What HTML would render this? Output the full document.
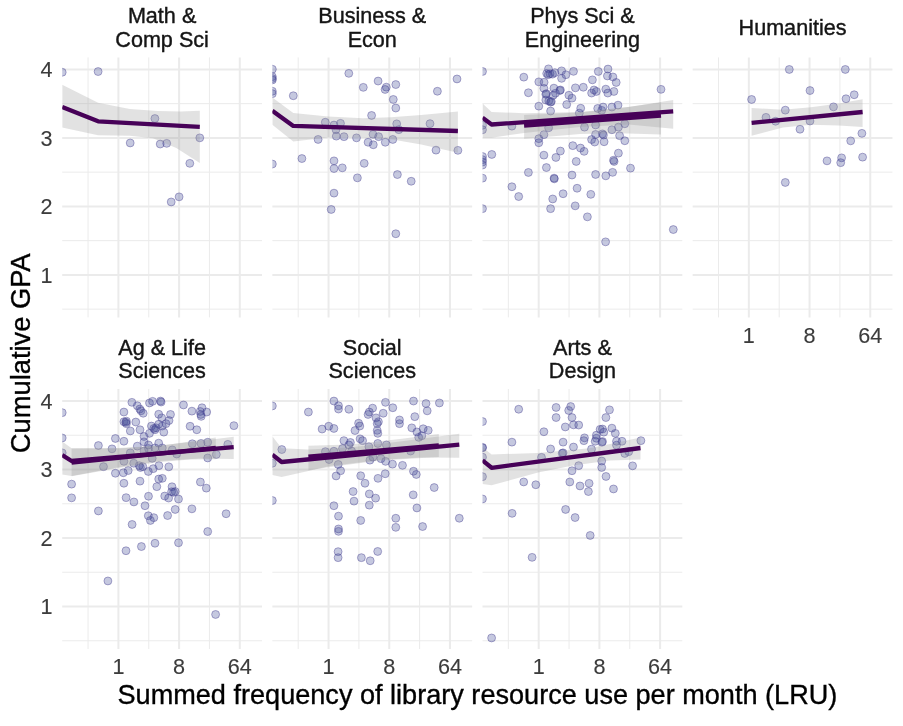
<!DOCTYPE html>
<html lang="en"><head><meta charset="utf-8"><title>Cumulative GPA vs library resource use</title>
<style>html,body{margin:0;padding:0;background:#fff}body{width:903px;height:726px;overflow:hidden}svg{display:block}text{font-family:"Liberation Sans",Arial,Helvetica,sans-serif}.ax{font-size:21.6px;fill:#3c3c3c;stroke:#3c3c3c;stroke-width:.12}.st{font-size:21.6px;fill:#151515;stroke:#151515;stroke-width:.4}.ti{font-size:27px;fill:#000;stroke:#000;stroke-width:.35}.gM{stroke:#ebebeb;stroke-width:2;fill:none}.gm{stroke:#ebebeb;stroke-width:1;fill:none}.p circle{fill:#3e4a96;fill-opacity:.3;stroke:#453f8f;stroke-opacity:.42;stroke-width:1}.rb{fill:#999;fill-opacity:.285;stroke:none}.ln{fill:none;stroke:#470158;stroke-width:4.3;stroke-linejoin:round;stroke-linecap:butt}</style></head><body>
<svg width="903" height="726" viewBox="0 0 903 726">
<rect width="903" height="726" fill="#fff"/>
<defs>
<clipPath id="c0"><rect x="62.2" y="57.4" width="199.8" height="260"/></clipPath>
<clipPath id="c1"><rect x="272.35" y="57.4" width="199.8" height="260"/></clipPath>
<clipPath id="c2"><rect x="482.5" y="57.4" width="199.8" height="260"/></clipPath>
<clipPath id="c3"><rect x="692.65" y="57.4" width="199.8" height="260"/></clipPath>
<clipPath id="c4"><rect x="62.2" y="389" width="199.8" height="260"/></clipPath>
<clipPath id="c5"><rect x="272.35" y="389" width="199.8" height="260"/></clipPath>
<clipPath id="c6"><rect x="482.5" y="389" width="199.8" height="260"/></clipPath>
</defs>
<g>
<path class="gm" d="M62.2 103.65H262M62.2 172.15H262M62.2 240.65H262M62.2 309.15H262M88.05 57.4V317.4M148.75 57.4V317.4M209.45 57.4V317.4"/>
<path class="gM" d="M62.2 69.4H262M62.2 137.9H262M62.2 206.4H262M62.2 274.9H262M118.4 57.4V317.4M179.1 57.4V317.4M239.8 57.4V317.4"/>
<g clip-path="url(#c0)">
<g class="p"><circle cx="62.2" cy="72.25" r="3.95"/><circle cx="98.1" cy="71.55" r="3.95"/><circle cx="154.9" cy="118.55" r="3.95"/><circle cx="130.2" cy="142.95" r="3.95"/><circle cx="160.2" cy="144.05" r="3.95"/><circle cx="166.7" cy="143.35" r="3.95"/><circle cx="199.8" cy="137.85" r="3.95"/><circle cx="189.8" cy="163.35" r="3.95"/><circle cx="179.1" cy="196.85" r="3.95"/><circle cx="171.2" cy="201.95" r="3.95"/></g>
<path class="rb" d="M62.2 84.8L98.1 102.7L129.8 109L157.7 111L180.9 111.5L199.8 110.8L199.8 163.1L176.3 148L153 138.3L129.8 135.7L98.1 135.2L62.2 127.6Z"/>
<path class="ln" d="M62.2 107.1L98.1 121.3L199.8 126.9"/>
</g>
<text class="st" text-anchor="middle" x="162.1" y="23">Math &amp;</text>
<text class="st" text-anchor="middle" x="162.1" y="46.6">Comp Sci</text>
</g>
<g>
<path class="gm" d="M272.35 103.65H472.15M272.35 172.15H472.15M272.35 240.65H472.15M272.35 309.15H472.15M298.2 57.4V317.4M358.9 57.4V317.4M419.6 57.4V317.4"/>
<path class="gM" d="M272.35 69.4H472.15M272.35 137.9H472.15M272.35 206.4H472.15M272.35 274.9H472.15M328.55 57.4V317.4M389.25 57.4V317.4M449.95 57.4V317.4"/>
<g clip-path="url(#c1)">
<g class="p"><circle cx="272.35" cy="69.25" r="3.95"/><circle cx="272.35" cy="76.65" r="3.95"/><circle cx="272.35" cy="78.55" r="3.95"/><circle cx="272.35" cy="79.95" r="3.95"/><circle cx="272.35" cy="91.25" r="3.95"/><circle cx="272.35" cy="93.65" r="3.95"/><circle cx="272.35" cy="164.05" r="3.95"/><circle cx="348.8" cy="73.35" r="3.95"/><circle cx="293.3" cy="95.75" r="3.95"/><circle cx="378.1" cy="81.05" r="3.95"/><circle cx="363.3" cy="87.35" r="3.95"/><circle cx="386.3" cy="87.15" r="3.95"/><circle cx="385.1" cy="89.45" r="3.95"/><circle cx="395.8" cy="84.55" r="3.95"/><circle cx="457" cy="78.95" r="3.95"/><circle cx="437.4" cy="91.25" r="3.95"/><circle cx="393.3" cy="99.45" r="3.95"/><circle cx="395.8" cy="108.05" r="3.95"/><circle cx="371.6" cy="115.45" r="3.95"/><circle cx="325.3" cy="122.25" r="3.95"/><circle cx="334" cy="125.05" r="3.95"/><circle cx="340.5" cy="123.35" r="3.95"/><circle cx="336" cy="129.65" r="3.95"/><circle cx="396.7" cy="123.85" r="3.95"/><circle cx="398.8" cy="129.65" r="3.95"/><circle cx="430" cy="123.65" r="3.95"/><circle cx="336.3" cy="136.15" r="3.95"/><circle cx="344" cy="136.65" r="3.95"/><circle cx="356.5" cy="137.85" r="3.95"/><circle cx="318.1" cy="139.45" r="3.95"/><circle cx="373" cy="134.35" r="3.95"/><circle cx="378.6" cy="136.65" r="3.95"/><circle cx="368.1" cy="142.25" r="3.95"/><circle cx="373.3" cy="144.75" r="3.95"/><circle cx="385.3" cy="142.25" r="3.95"/><circle cx="392.8" cy="139.45" r="3.95"/><circle cx="436" cy="150.15" r="3.95"/><circle cx="457.9" cy="150.35" r="3.95"/><circle cx="301.9" cy="158.55" r="3.95"/><circle cx="334" cy="160.85" r="3.95"/><circle cx="334" cy="168.55" r="3.95"/><circle cx="342.3" cy="167.85" r="3.95"/><circle cx="364.2" cy="163.35" r="3.95"/><circle cx="357.4" cy="177.85" r="3.95"/><circle cx="397.4" cy="174.55" r="3.95"/><circle cx="411.2" cy="181.25" r="3.95"/><circle cx="334" cy="193.15" r="3.95"/><circle cx="331.2" cy="209.45" r="3.95"/><circle cx="395.8" cy="233.75" r="3.95"/></g>
<path class="rb" d="M272.35 97.6L293.3 113.1L328.1 116.6L363 118.3L390.9 117.3L421.2 115L457.9 111.5L457.9 152.7L421.2 144.5L390.9 139.2L363 137.6L328.1 137.6L293.3 141.5L272.35 124.8Z"/>
<path class="ln" d="M272.35 110.8L293.3 125.9L457.9 131"/>
</g>
<text class="st" text-anchor="middle" x="372.25" y="23">Business &amp;</text>
<text class="st" text-anchor="middle" x="372.25" y="46.6">Econ</text>
</g>
<g>
<path class="gm" d="M482.5 103.65H682.3M482.5 172.15H682.3M482.5 240.65H682.3M482.5 309.15H682.3M508.35 57.4V317.4M569.05 57.4V317.4M629.75 57.4V317.4"/>
<path class="gM" d="M482.5 69.4H682.3M482.5 137.9H682.3M482.5 206.4H682.3M482.5 274.9H682.3M538.7 57.4V317.4M599.4 57.4V317.4M660.1 57.4V317.4"/>
<g clip-path="url(#c2)">
<g class="p"><circle cx="482.5" cy="71.45" r="3.95"/><circle cx="523.8" cy="77.15" r="3.95"/><circle cx="528.4" cy="92.75" r="3.95"/><circle cx="538.8" cy="81.85" r="3.95"/><circle cx="544.1" cy="82.25" r="3.95"/><circle cx="548.5" cy="68.85" r="3.95"/><circle cx="546.7" cy="73.55" r="3.95"/><circle cx="548.2" cy="74.75" r="3.95"/><circle cx="550" cy="73.75" r="3.95"/><circle cx="552.5" cy="74.15" r="3.95"/><circle cx="554.9" cy="72.65" r="3.95"/><circle cx="561.6" cy="70.85" r="3.95"/><circle cx="565.9" cy="74.75" r="3.95"/><circle cx="561.6" cy="78.35" r="3.95"/><circle cx="573.5" cy="71.35" r="3.95"/><circle cx="543.9" cy="88.35" r="3.95"/><circle cx="553.9" cy="88.15" r="3.95"/><circle cx="560.4" cy="89.95" r="3.95"/><circle cx="559.8" cy="90.55" r="3.95"/><circle cx="546.4" cy="93.65" r="3.95"/><circle cx="545.8" cy="94.25" r="3.95"/><circle cx="555.5" cy="93.25" r="3.95"/><circle cx="553.1" cy="95.45" r="3.95"/><circle cx="575.4" cy="87.85" r="3.95"/><circle cx="583.3" cy="87.25" r="3.95"/><circle cx="568.9" cy="95.25" r="3.95"/><circle cx="572" cy="98.15" r="3.95"/><circle cx="545.8" cy="100.05" r="3.95"/><circle cx="548.8" cy="100.95" r="3.95"/><circle cx="550.6" cy="102.15" r="3.95"/><circle cx="551.3" cy="101.55" r="3.95"/><circle cx="538.8" cy="106.15" r="3.95"/><circle cx="550.6" cy="111.05" r="3.95"/><circle cx="566.7" cy="104.55" r="3.95"/><circle cx="580.7" cy="108.25" r="3.95"/><circle cx="579.3" cy="113.15" r="3.95"/><circle cx="482.5" cy="125.25" r="3.95"/><circle cx="482.5" cy="129.75" r="3.95"/><circle cx="511.9" cy="126.15" r="3.95"/><circle cx="548.6" cy="127.75" r="3.95"/><circle cx="584.5" cy="127.15" r="3.95"/><circle cx="543.9" cy="134.65" r="3.95"/><circle cx="538.8" cy="138.65" r="3.95"/><circle cx="538.8" cy="142.75" r="3.95"/><circle cx="598.3" cy="71.45" r="3.95"/><circle cx="608" cy="69.05" r="3.95"/><circle cx="607.4" cy="75.95" r="3.95"/><circle cx="612.9" cy="76.95" r="3.95"/><circle cx="616.2" cy="82.45" r="3.95"/><circle cx="592.4" cy="79.85" r="3.95"/><circle cx="591.6" cy="93.05" r="3.95"/><circle cx="594" cy="89.95" r="3.95"/><circle cx="596.4" cy="91.45" r="3.95"/><circle cx="605.8" cy="89.15" r="3.95"/><circle cx="607.8" cy="93.05" r="3.95"/><circle cx="613.9" cy="91.45" r="3.95"/><circle cx="661" cy="89.35" r="3.95"/><circle cx="597.7" cy="108.45" r="3.95"/><circle cx="603.1" cy="107.05" r="3.95"/><circle cx="601.7" cy="110.35" r="3.95"/><circle cx="611.9" cy="107.05" r="3.95"/><circle cx="618" cy="105.15" r="3.95"/><circle cx="595.6" cy="124.95" r="3.95"/><circle cx="624.8" cy="123.75" r="3.95"/><circle cx="618.4" cy="127.15" r="3.95"/><circle cx="611.9" cy="129.75" r="3.95"/><circle cx="595.6" cy="134.45" r="3.95"/><circle cx="602.5" cy="133.85" r="3.95"/><circle cx="603.4" cy="135.05" r="3.95"/><circle cx="619.6" cy="135.65" r="3.95"/><circle cx="591.6" cy="139.55" r="3.95"/><circle cx="594.7" cy="142.05" r="3.95"/><circle cx="604.1" cy="141.75" r="3.95"/><circle cx="624.8" cy="140.75" r="3.95"/><circle cx="482.5" cy="156.55" r="3.95"/><circle cx="482.5" cy="159.65" r="3.95"/><circle cx="482.5" cy="162.05" r="3.95"/><circle cx="482.5" cy="165.05" r="3.95"/><circle cx="482.5" cy="178.15" r="3.95"/><circle cx="482.5" cy="208.65" r="3.95"/><circle cx="491.8" cy="154.45" r="3.95"/><circle cx="543.9" cy="155.15" r="3.95"/><circle cx="560.4" cy="151.05" r="3.95"/><circle cx="555.9" cy="157.45" r="3.95"/><circle cx="572.8" cy="145.65" r="3.95"/><circle cx="580.5" cy="148.05" r="3.95"/><circle cx="584.1" cy="151.35" r="3.95"/><circle cx="576.2" cy="161.45" r="3.95"/><circle cx="546.4" cy="167.55" r="3.95"/><circle cx="528.4" cy="172.45" r="3.95"/><circle cx="554.1" cy="178.15" r="3.95"/><circle cx="554.3" cy="178.85" r="3.95"/><circle cx="572" cy="175.05" r="3.95"/><circle cx="511.9" cy="186.75" r="3.95"/><circle cx="518.7" cy="196.55" r="3.95"/><circle cx="577.1" cy="188.25" r="3.95"/><circle cx="563.1" cy="193.75" r="3.95"/><circle cx="552.7" cy="198.95" r="3.95"/><circle cx="550.6" cy="208.65" r="3.95"/><circle cx="575.2" cy="205.85" r="3.95"/><circle cx="587.4" cy="216.85" r="3.95"/><circle cx="590.8" cy="194.35" r="3.95"/><circle cx="618.4" cy="153.15" r="3.95"/><circle cx="613.5" cy="160.25" r="3.95"/><circle cx="614.1" cy="161.45" r="3.95"/><circle cx="630.5" cy="168.15" r="3.95"/><circle cx="595.6" cy="174.45" r="3.95"/><circle cx="605.8" cy="175.85" r="3.95"/><circle cx="612.6" cy="172.35" r="3.95"/><circle cx="605.6" cy="241.85" r="3.95"/><circle cx="673.3" cy="229.55" r="3.95"/></g>
<path class="rb" d="M482.5 103.5L491.6 111.9L524.1 113.2L580 112L628.7 107L673.2 100L673.2 128.7L628.7 124.6L580 127L524.1 133L491.6 137.7L482.5 137.7Z"/>
<path class="rb" d="M524.1 115L580 112.5L620 108L661 102.4L661 134.6L620 133.2L580 134L524.1 138.8Z"/>
<path class="ln" d="M482.5 117.6L491.6 124.5L673.2 111.4"/>
<path class="ln" d="M524.1 125.7L661 115.5"/>
</g>
<text class="st" text-anchor="middle" x="582.4" y="23">Phys Sci &amp;</text>
<text class="st" text-anchor="middle" x="582.4" y="46.6">Engineering</text>
</g>
<g>
<path class="gm" d="M692.65 103.65H892.45M692.65 172.15H892.45M692.65 240.65H892.45M692.65 309.15H892.45M718.5 57.4V317.4M779.2 57.4V317.4M839.9 57.4V317.4"/>
<path class="gM" d="M692.65 69.4H892.45M692.65 137.9H892.45M692.65 206.4H892.45M692.65 274.9H892.45M748.85 57.4V317.4M809.55 57.4V317.4M870.25 57.4V317.4"/>
<g clip-path="url(#c3)">
<g class="p"><circle cx="789.3" cy="69.45" r="3.95"/><circle cx="845.3" cy="69.45" r="3.95"/><circle cx="810" cy="90.55" r="3.95"/><circle cx="751.6" cy="99.45" r="3.95"/><circle cx="854.2" cy="94.75" r="3.95"/><circle cx="846" cy="98.75" r="3.95"/><circle cx="833.5" cy="106.85" r="3.95"/><circle cx="785.3" cy="110.15" r="3.95"/><circle cx="766" cy="117.35" r="3.95"/><circle cx="775.6" cy="121.25" r="3.95"/><circle cx="810" cy="121.05" r="3.95"/><circle cx="800" cy="129.25" r="3.95"/><circle cx="861.9" cy="133.35" r="3.95"/><circle cx="850.7" cy="140.85" r="3.95"/><circle cx="827" cy="160.85" r="3.95"/><circle cx="841.6" cy="157.85" r="3.95"/><circle cx="840.7" cy="162.65" r="3.95"/><circle cx="862.6" cy="157.15" r="3.95"/><circle cx="785.3" cy="182.45" r="3.95"/></g>
<path class="rb" d="M751.6 108L783 109.7L810.9 107.3L838.8 103.4L862.6 99.2L862.6 127.1L838.8 125.5L810.9 124.8L783 127.6L751.6 135.7Z"/>
<path class="ln" d="M751.6 122.9L862.6 112"/>
</g>
<text class="st" text-anchor="middle" x="792.55" y="34.9">Humanities</text>
</g>
<g>
<path class="gm" d="M62.2 435.25H262M62.2 503.75H262M62.2 572.25H262M62.2 640.75H262M88.05 389V649M148.75 389V649M209.45 389V649"/>
<path class="gM" d="M62.2 401H262M62.2 469.5H262M62.2 538H262M62.2 606.5H262M118.4 389V649M179.1 389V649M239.8 389V649"/>
<g clip-path="url(#c4)">
<g class="p"><circle cx="62.2" cy="412.65" r="3.95"/><circle cx="62.2" cy="437.95" r="3.95"/><circle cx="62.2" cy="452.85" r="3.95"/><circle cx="131.9" cy="402.35" r="3.95"/><circle cx="137.3" cy="405.75" r="3.95"/><circle cx="139.8" cy="409.05" r="3.95"/><circle cx="141" cy="410.85" r="3.95"/><circle cx="143.2" cy="413.25" r="3.95"/><circle cx="149.5" cy="402.95" r="3.95"/><circle cx="152.6" cy="401.35" r="3.95"/><circle cx="160.5" cy="401.05" r="3.95"/><circle cx="161.1" cy="402.05" r="3.95"/><circle cx="123.9" cy="412.05" r="3.95"/><circle cx="158.7" cy="414.25" r="3.95"/><circle cx="161.7" cy="417.85" r="3.95"/><circle cx="170.5" cy="414.45" r="3.95"/><circle cx="123.9" cy="421.75" r="3.95"/><circle cx="125.8" cy="422.35" r="3.95"/><circle cx="126.4" cy="423.65" r="3.95"/><circle cx="126.4" cy="421.15" r="3.95"/><circle cx="135.8" cy="422.05" r="3.95"/><circle cx="130.3" cy="430.95" r="3.95"/><circle cx="140" cy="429.75" r="3.95"/><circle cx="151.4" cy="426.05" r="3.95"/><circle cx="153.8" cy="428.45" r="3.95"/><circle cx="155" cy="429.75" r="3.95"/><circle cx="156.2" cy="427.85" r="3.95"/><circle cx="158.7" cy="424.25" r="3.95"/><circle cx="162.3" cy="426.05" r="3.95"/><circle cx="166" cy="423.65" r="3.95"/><circle cx="169" cy="420.55" r="3.95"/><circle cx="163.8" cy="432.15" r="3.95"/><circle cx="149.5" cy="433.35" r="3.95"/><circle cx="144" cy="436.45" r="3.95"/><circle cx="115.4" cy="438.45" r="3.95"/><circle cx="123.9" cy="441.25" r="3.95"/><circle cx="98.4" cy="445.55" r="3.95"/><circle cx="112" cy="448.85" r="3.95"/><circle cx="144" cy="441.85" r="3.95"/><circle cx="137.3" cy="446.15" r="3.95"/><circle cx="148.5" cy="444.95" r="3.95"/><circle cx="148.5" cy="448.55" r="3.95"/><circle cx="158.7" cy="443.15" r="3.95"/><circle cx="155" cy="447.95" r="3.95"/><circle cx="162.3" cy="447.95" r="3.95"/><circle cx="144" cy="451.05" r="3.95"/><circle cx="130.3" cy="452.85" r="3.95"/><circle cx="152.2" cy="458.35" r="3.95"/><circle cx="123.9" cy="461.35" r="3.95"/><circle cx="133.7" cy="463.25" r="3.95"/><circle cx="103.5" cy="466.65" r="3.95"/><circle cx="139.2" cy="465.65" r="3.95"/><circle cx="140.4" cy="467.45" r="3.95"/><circle cx="142.8" cy="466.65" r="3.95"/><circle cx="158.9" cy="465.65" r="3.95"/><circle cx="153.2" cy="468.65" r="3.95"/><circle cx="168.8" cy="466.85" r="3.95"/><circle cx="128.2" cy="470.55" r="3.95"/><circle cx="115.4" cy="473.25" r="3.95"/><circle cx="123.3" cy="472.75" r="3.95"/><circle cx="148.3" cy="471.45" r="3.95"/><circle cx="183.5" cy="404.95" r="3.95"/><circle cx="191.9" cy="411.15" r="3.95"/><circle cx="202" cy="407.75" r="3.95"/><circle cx="206.7" cy="412.05" r="3.95"/><circle cx="200.2" cy="411.45" r="3.95"/><circle cx="200.8" cy="414.45" r="3.95"/><circle cx="201.2" cy="416.35" r="3.95"/><circle cx="190.1" cy="426.25" r="3.95"/><circle cx="196.8" cy="429.75" r="3.95"/><circle cx="233.9" cy="425.65" r="3.95"/><circle cx="192.3" cy="443.75" r="3.95"/><circle cx="201" cy="443.45" r="3.95"/><circle cx="207.7" cy="442.25" r="3.95"/><circle cx="227.8" cy="444.35" r="3.95"/><circle cx="172.2" cy="449.85" r="3.95"/><circle cx="176.7" cy="454.05" r="3.95"/><circle cx="207.7" cy="457.95" r="3.95"/><circle cx="216.3" cy="454.45" r="3.95"/><circle cx="71.6" cy="484.15" r="3.95"/><circle cx="71.6" cy="497.85" r="3.95"/><circle cx="123.9" cy="483.25" r="3.95"/><circle cx="140" cy="481.15" r="3.95"/><circle cx="158.7" cy="479.05" r="3.95"/><circle cx="162.3" cy="478.35" r="3.95"/><circle cx="156.8" cy="486.65" r="3.95"/><circle cx="172" cy="486.75" r="3.95"/><circle cx="126.1" cy="497.65" r="3.95"/><circle cx="133.9" cy="501.95" r="3.95"/><circle cx="148.5" cy="496.25" r="3.95"/><circle cx="164.7" cy="496.05" r="3.95"/><circle cx="168.6" cy="498.05" r="3.95"/><circle cx="145" cy="505.75" r="3.95"/><circle cx="98.4" cy="510.95" r="3.95"/><circle cx="148.3" cy="515.75" r="3.95"/><circle cx="153.8" cy="517.65" r="3.95"/><circle cx="150.4" cy="520.45" r="3.95"/><circle cx="167.6" cy="515.55" r="3.95"/><circle cx="132.1" cy="524.45" r="3.95"/><circle cx="155" cy="543.25" r="3.95"/><circle cx="141.4" cy="546.55" r="3.95"/><circle cx="171.6" cy="491.75" r="3.95"/><circle cx="175.2" cy="491.55" r="3.95"/><circle cx="173.6" cy="492.35" r="3.95"/><circle cx="178.5" cy="499.05" r="3.95"/><circle cx="200.4" cy="482.05" r="3.95"/><circle cx="206.3" cy="488.15" r="3.95"/><circle cx="175.2" cy="509.45" r="3.95"/><circle cx="191.9" cy="508.85" r="3.95"/><circle cx="226.1" cy="513.75" r="3.95"/><circle cx="207.7" cy="531.55" r="3.95"/><circle cx="178.5" cy="542.75" r="3.95"/><circle cx="126" cy="550.75" r="3.95"/><circle cx="107.9" cy="580.95" r="3.95"/><circle cx="215.6" cy="614.45" r="3.95"/></g>
<path class="rb" d="M62.2 441.5L71.6 448.3L118.5 448L160 445.5L200 441L233.7 436.8L233.7 459.1L200 458.5L160 461L118.5 467.2L71.6 476L62.2 474.5Z"/>
<path class="rb" d="M71.6 448.6L118.5 448.5L160 445.8L190 441.5L215.8 437.4L215.8 459.3L190 459.5L160 462L118.5 468L71.6 476.2Z"/>
<path class="ln" d="M62.2 455L71.6 461L233.7 447.1"/>
<path class="ln" d="M71.6 462.6L215.8 447.8"/>
</g>
<text class="st" text-anchor="middle" x="162.1" y="354.6">Ag &amp; Life</text>
<text class="st" text-anchor="middle" x="162.1" y="378.2">Sciences</text>
</g>
<g>
<path class="gm" d="M272.35 435.25H472.15M272.35 503.75H472.15M272.35 572.25H472.15M272.35 640.75H472.15M298.2 389V649M358.9 389V649M419.6 389V649"/>
<path class="gM" d="M272.35 401H472.15M272.35 469.5H472.15M272.35 538H472.15M272.35 606.5H472.15M328.55 389V649M389.25 389V649M449.95 389V649"/>
<g clip-path="url(#c5)">
<g class="p"><circle cx="272.35" cy="405.95" r="3.95"/><circle cx="272.35" cy="463.25" r="3.95"/><circle cx="272.35" cy="500.55" r="3.95"/><circle cx="308.4" cy="412.05" r="3.95"/><circle cx="333.9" cy="401.05" r="3.95"/><circle cx="338.5" cy="405.75" r="3.95"/><circle cx="338.5" cy="409.05" r="3.95"/><circle cx="348.9" cy="409.25" r="3.95"/><circle cx="372.6" cy="408.15" r="3.95"/><circle cx="369.3" cy="412.05" r="3.95"/><circle cx="368.1" cy="414.45" r="3.95"/><circle cx="376" cy="417.85" r="3.95"/><circle cx="378.4" cy="421.75" r="3.95"/><circle cx="377.2" cy="423.65" r="3.95"/><circle cx="322.1" cy="429.05" r="3.95"/><circle cx="328.7" cy="426.25" r="3.95"/><circle cx="333.9" cy="428.45" r="3.95"/><circle cx="358.6" cy="423.25" r="3.95"/><circle cx="359.8" cy="426.05" r="3.95"/><circle cx="355" cy="430.55" r="3.95"/><circle cx="377.2" cy="430.35" r="3.95"/><circle cx="377.8" cy="433.35" r="3.95"/><circle cx="343.9" cy="440.65" r="3.95"/><circle cx="350.4" cy="442.45" r="3.95"/><circle cx="348.9" cy="444.95" r="3.95"/><circle cx="360.1" cy="438.85" r="3.95"/><circle cx="362.6" cy="440.65" r="3.95"/><circle cx="377.8" cy="443.45" r="3.95"/><circle cx="368.9" cy="446.75" r="3.95"/><circle cx="281.8" cy="449.55" r="3.95"/><circle cx="325.4" cy="451.65" r="3.95"/><circle cx="333.9" cy="451.25" r="3.95"/><circle cx="342.5" cy="448.55" r="3.95"/><circle cx="351.6" cy="451.05" r="3.95"/><circle cx="369.9" cy="460.15" r="3.95"/><circle cx="372.9" cy="457.15" r="3.95"/><circle cx="338.2" cy="464.45" r="3.95"/><circle cx="340.6" cy="470.75" r="3.95"/><circle cx="329.1" cy="459.55" r="3.95"/><circle cx="381" cy="458.65" r="3.95"/><circle cx="360.7" cy="475.75" r="3.95"/><circle cx="385.5" cy="402.35" r="3.95"/><circle cx="392.8" cy="407.75" r="3.95"/><circle cx="383.2" cy="413.25" r="3.95"/><circle cx="413.5" cy="401.05" r="3.95"/><circle cx="426" cy="403.55" r="3.95"/><circle cx="439.4" cy="402.95" r="3.95"/><circle cx="427.2" cy="410.85" r="3.95"/><circle cx="414.8" cy="416.65" r="3.95"/><circle cx="399.5" cy="419.95" r="3.95"/><circle cx="399.5" cy="423.65" r="3.95"/><circle cx="411.8" cy="427.85" r="3.95"/><circle cx="416.9" cy="431.95" r="3.95"/><circle cx="423.2" cy="428.75" r="3.95"/><circle cx="428.2" cy="430.35" r="3.95"/><circle cx="418.7" cy="437.35" r="3.95"/><circle cx="421.8" cy="435.75" r="3.95"/><circle cx="386.4" cy="444.95" r="3.95"/><circle cx="410.6" cy="451.05" r="3.95"/><circle cx="385.6" cy="461.35" r="3.95"/><circle cx="392.5" cy="464.15" r="3.95"/><circle cx="402.5" cy="465.35" r="3.95"/><circle cx="385.2" cy="473.75" r="3.95"/><circle cx="413.5" cy="471.25" r="3.95"/><circle cx="416.3" cy="474.45" r="3.95"/><circle cx="336.1" cy="475.95" r="3.95"/><circle cx="365" cy="483.25" r="3.95"/><circle cx="378" cy="478.35" r="3.95"/><circle cx="353.1" cy="491.55" r="3.95"/><circle cx="369.3" cy="493.95" r="3.95"/><circle cx="375.6" cy="498.15" r="3.95"/><circle cx="354" cy="501.15" r="3.95"/><circle cx="369.3" cy="505.15" r="3.95"/><circle cx="333.9" cy="505.75" r="3.95"/><circle cx="338.5" cy="516.15" r="3.95"/><circle cx="360.7" cy="520.45" r="3.95"/><circle cx="338.5" cy="528.95" r="3.95"/><circle cx="338.5" cy="531.35" r="3.95"/><circle cx="434.2" cy="487.55" r="3.95"/><circle cx="413.2" cy="494.85" r="3.95"/><circle cx="416.9" cy="507.95" r="3.95"/><circle cx="395.8" cy="518.25" r="3.95"/><circle cx="395.8" cy="527.35" r="3.95"/><circle cx="422.6" cy="526.55" r="3.95"/><circle cx="459.3" cy="518.25" r="3.95"/><circle cx="338.1" cy="551.65" r="3.95"/><circle cx="338.1" cy="557.65" r="3.95"/><circle cx="361.4" cy="557.65" r="3.95"/><circle cx="370.2" cy="560.75" r="3.95"/><circle cx="377.7" cy="551.45" r="3.95"/></g>
<path class="rb" d="M272.35 436.2L281.6 448.3L308.4 449.5L350 447.5L400 441.5L459.3 433.7L459.3 457.8L420 457.5L380 460L330 466L308.4 471L281.6 476.9L272.35 475.1Z"/>
<path class="rb" d="M308.4 445.7L350 444.5L400 439L438.8 434L438.8 456.9L380 460.5L330 467L308.4 470.3Z"/>
<path class="ln" d="M272.35 454.7L281.6 462L459.3 444.7"/>
<path class="ln" d="M308.4 456.7L438.8 445.3"/>
</g>
<text class="st" text-anchor="middle" x="372.25" y="354.6">Social</text>
<text class="st" text-anchor="middle" x="372.25" y="378.2">Sciences</text>
</g>
<g>
<path class="gm" d="M482.5 435.25H682.3M482.5 503.75H682.3M482.5 572.25H682.3M482.5 640.75H682.3M508.35 389V649M569.05 389V649M629.75 389V649"/>
<path class="gM" d="M482.5 401H682.3M482.5 469.5H682.3M482.5 538H682.3M482.5 606.5H682.3M538.7 389V649M599.4 389V649M660.1 389V649"/>
<g clip-path="url(#c6)">
<g class="p"><circle cx="482.5" cy="421.55" r="3.95"/><circle cx="482.5" cy="447.35" r="3.95"/><circle cx="482.5" cy="447.85" r="3.95"/><circle cx="482.5" cy="457.15" r="3.95"/><circle cx="482.5" cy="476.65" r="3.95"/><circle cx="482.5" cy="498.95" r="3.95"/><circle cx="518.7" cy="409.25" r="3.95"/><circle cx="556.1" cy="407.45" r="3.95"/><circle cx="570.7" cy="406.55" r="3.95"/><circle cx="568.7" cy="410.45" r="3.95"/><circle cx="556.1" cy="417.55" r="3.95"/><circle cx="572" cy="417.55" r="3.95"/><circle cx="573.5" cy="424.85" r="3.95"/><circle cx="578.7" cy="425.05" r="3.95"/><circle cx="565.3" cy="426.95" r="3.95"/><circle cx="543.9" cy="431.75" r="3.95"/><circle cx="584.5" cy="437.85" r="3.95"/><circle cx="583.9" cy="440.65" r="3.95"/><circle cx="511.9" cy="442.15" r="3.95"/><circle cx="563.1" cy="442.15" r="3.95"/><circle cx="573.5" cy="447.05" r="3.95"/><circle cx="550.6" cy="448.95" r="3.95"/><circle cx="562.2" cy="453.25" r="3.95"/><circle cx="563.1" cy="452.85" r="3.95"/><circle cx="541.5" cy="457.35" r="3.95"/><circle cx="591.5" cy="449.15" r="3.95"/><circle cx="578.7" cy="465.65" r="3.95"/><circle cx="572" cy="470.75" r="3.95"/><circle cx="609.5" cy="409.85" r="3.95"/><circle cx="605.9" cy="417.55" r="3.95"/><circle cx="600.1" cy="429.35" r="3.95"/><circle cx="602.5" cy="429.05" r="3.95"/><circle cx="603.8" cy="432.15" r="3.95"/><circle cx="611.9" cy="428.15" r="3.95"/><circle cx="615.3" cy="433.35" r="3.95"/><circle cx="596.4" cy="435.15" r="3.95"/><circle cx="596.4" cy="438.25" r="3.95"/><circle cx="595.2" cy="441.25" r="3.95"/><circle cx="602.5" cy="441.55" r="3.95"/><circle cx="601.9" cy="442.25" r="3.95"/><circle cx="616.5" cy="441.25" r="3.95"/><circle cx="622" cy="441.25" r="3.95"/><circle cx="616.5" cy="445.15" r="3.95"/><circle cx="640.9" cy="440.65" r="3.95"/><circle cx="624.8" cy="453.45" r="3.95"/><circle cx="628.7" cy="451.65" r="3.95"/><circle cx="601.7" cy="461.05" r="3.95"/><circle cx="601.7" cy="467.45" r="3.95"/><circle cx="632.6" cy="465.85" r="3.95"/><circle cx="606" cy="476.45" r="3.95"/><circle cx="523.7" cy="481.95" r="3.95"/><circle cx="535.8" cy="484.75" r="3.95"/><circle cx="569.8" cy="481.95" r="3.95"/><circle cx="580" cy="485.95" r="3.95"/><circle cx="589.1" cy="483.35" r="3.95"/><circle cx="588.4" cy="491.55" r="3.95"/><circle cx="613.5" cy="488.95" r="3.95"/><circle cx="512.1" cy="513.35" r="3.95"/><circle cx="565.6" cy="509.45" r="3.95"/><circle cx="575.1" cy="517.55" r="3.95"/><circle cx="590.2" cy="535.45" r="3.95"/><circle cx="532.1" cy="557.35" r="3.95"/><circle cx="491.6" cy="637.95" r="3.95"/></g>
<path class="rb" d="M482.5 447.1L491.6 454.4L538 453L589.6 448.3L615 443L640.5 437.4L640.5 459.5L610 460.5L573 465.5L538.1 472.4L491.6 485.2L482.5 484.1Z"/>
<path class="ln" d="M482.5 460.5L491.6 467.8L640.5 448"/>
</g>
<text class="st" text-anchor="middle" x="582.4" y="354.6">Arts &amp;</text>
<text class="st" text-anchor="middle" x="582.4" y="378.2">Design</text>
</g>
<text class="ax" text-anchor="end" x="52.4" y="77">4</text>
<text class="ax" text-anchor="end" x="52.4" y="145.5">3</text>
<text class="ax" text-anchor="end" x="52.4" y="214">2</text>
<text class="ax" text-anchor="end" x="52.4" y="282.5">1</text>
<text class="ax" text-anchor="end" x="52.4" y="408.6">4</text>
<text class="ax" text-anchor="end" x="52.4" y="477.1">3</text>
<text class="ax" text-anchor="end" x="52.4" y="545.6">2</text>
<text class="ax" text-anchor="end" x="52.4" y="614.1">1</text>
<text class="ax" text-anchor="middle" x="118.4" y="674.3">1</text>
<text class="ax" text-anchor="middle" x="179.1" y="674.3">8</text>
<text class="ax" text-anchor="middle" x="239.8" y="674.3">64</text>
<text class="ax" text-anchor="middle" x="328.55" y="674.3">1</text>
<text class="ax" text-anchor="middle" x="389.25" y="674.3">8</text>
<text class="ax" text-anchor="middle" x="449.95" y="674.3">64</text>
<text class="ax" text-anchor="middle" x="538.7" y="674.3">1</text>
<text class="ax" text-anchor="middle" x="599.4" y="674.3">8</text>
<text class="ax" text-anchor="middle" x="660.1" y="674.3">64</text>
<text class="ax" text-anchor="middle" x="748.85" y="342.7">1</text>
<text class="ax" text-anchor="middle" x="809.55" y="342.7">8</text>
<text class="ax" text-anchor="middle" x="870.25" y="342.7">64</text>
<text class="ti" text-anchor="middle" x="477.4" y="703.9" style="font-size:27.1px">Summed frequency of library resource use per month (LRU)</text>
<text class="ti" text-anchor="middle" transform="translate(30 353.3) rotate(-90)" style="font-size:27.3px">Cumulative GPA</text>
</svg></body></html>
